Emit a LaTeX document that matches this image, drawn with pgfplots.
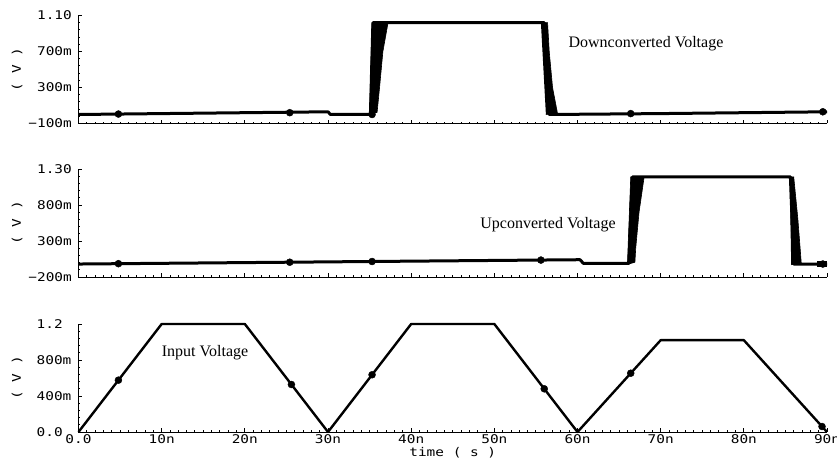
\documentclass[border=0pt]{standalone}
\usepackage{fontspec}
\usepackage{pgfplots}
\pgfplotsset{compat=1.18}
\newfontfamily\monofnt[FakeStretch=1.2]{DejaVu Sans Mono}
\newfontfamily\serfnt{Liberation Serif}
\newcommand\tickfont{\monofnt\fontsize{12}{12}\selectfont}
\newcommand\annfont{\serfnt\fontsize{16}{16}\selectfont}
\pgfplotsset{
  myaxis/.style={
    scale only axis, width=748.5pt, height=108pt, anchor=south west,
    xmin=0, xmax=90, xtick={0,10,...,90}, minor x tick num=9,
    axis x line*=bottom, axis y line*=left,
    tick align=inside, major tick length=3.5pt, minor tick length=1.8pt,
    axis line style={line width=0.9pt},
    every tick/.style={line width=0.9pt, black},
    tick label style={font=\tickfont},
    yticklabel style={anchor=east, inner sep=0pt, xshift=-6.5pt},
    minor y tick num=4,
    ylabel={( V )},
    ylabel style={font=\tickfont, at={(axis description cs:-0.082,0.5)}, anchor=center},
    clip=false,
  },
  sig/.style={line width=3pt, black, line join=round, mark=none},
  band/.style={fill=black, draw=black, line width=0.6pt, mark=none},
  mk/.style={only marks, mark=*, mark size=3.5pt, black},
}
\begin{document}
\begin{tikzpicture}
% ---------- Panel 1: Downconverted ----------
\begin{axis}[myaxis, at={(78.5pt,338.5pt)},
  ymin=-0.1, ymax=1.1, ytick={-0.1,0.3,0.7,1.1},
  yticklabels={−100m,300m,700m,1.10}, xticklabel={\mbox{}}]
\addplot[sig] coordinates {(0,0.0) (10,0.01) (20,0.02) (30,0.03) (30.3,0.0) (35.1,0.0) (35.4,1.02) (56.0,1.02) (56.6,0.0) (70,0.01) (80,0.02) (90,0.03)};
\addplot[band] coordinates {(35.0,0.0) (35.3,1.02) (37.2,1.01) (36.6,0.7) (36.2,0.3) (35.9,0.02)};
\addplot[band] coordinates {(55.6,1.02) (56.4,1.02) (56.6,0.7) (57.0,0.3) (57.6,0.01) (56.2,0.0)};
\addplot[mk] coordinates {(4.8,0.005) (25.4,0.02) (35.3,0.0) (66.4,0.01) (89.5,0.03)};
\node[anchor=west, font=\annfont, inner sep=0pt] at (axis cs:58.9,0.79) {Downconverted Voltage};
\end{axis}
% ---------- Panel 2: Upconverted ----------
\begin{axis}[myaxis, at={(78.5pt,185pt)},
  ymin=-0.2, ymax=1.3, ytick={-0.2,0.3,0.8,1.3},
  yticklabels={−200m,300m,800m,1.30}, xticklabel={\mbox{}}]
\addplot[sig] coordinates {(0,-0.02) (20,0.0) (40,0.02) (60.3,0.04) (60.7,-0.01) (66.2,-0.01) (66.6,1.19) (85.6,1.19) (86.0,-0.02) (90,-0.02)};
\addplot[band] coordinates {(66.0,-0.03) (66.4,1.19) (68.0,1.18) (67.4,0.7) (67.0,0.2) (66.9,0.0)};
\addplot[band] coordinates {(85.5,1.19) (86.0,1.19) (86.5,0.6) (86.9,0.0) (85.7,-0.03)};
\addplot[black, line width=6pt] coordinates {(88.8,-0.02) (90,-0.02)};
\addplot[mk] coordinates {(4.8,-0.015) (25.4,0.005) (35.3,0.015) (55.6,0.035) (89.5,-0.02)};
\node[anchor=west, font=\annfont, inner sep=0pt] at (axis cs:48.3,0.52) {Upconverted Voltage};
\end{axis}
% ---------- Panel 3: Input ----------
\begin{axis}[myaxis, at={(78.5pt,30pt)},
  ymin=0, ymax=1.2, ytick={0,0.4,0.8,1.2},
  yticklabels={0.0,400m,800m,1.2},
  yticklabel style={anchor=west, inner sep=0pt, xshift=-35.5pt},
  xticklabels={0.0,10n,20n,30n,40n,50n,60n,70n,80n,90n},
  xticklabel style={anchor=base, yshift=-12pt},
  xlabel={time ( s )},
  xlabel style={font=\tickfont, at={(axis description cs:0.5,0)}, anchor=base, yshift=-25pt}]
\addplot[black, line width=2.4pt, line join=round, mark=none] coordinates {(0,0) (10,1.2) (20,1.2) (30,0) (40,1.2) (50,1.2) (60,0) (70,1.02) (80,1.02) (90,0)};
\addplot[mk] coordinates {(4.8,0.576) (25.6,0.528) (35.3,0.636) (56.0,0.48) (66.4,0.653) (89.4,0.061)};
\node[anchor=west, font=\annfont, inner sep=0pt] at (axis cs:10.0,0.886) {Input Voltage};
\end{axis}
\pgfresetboundingbox
\useasboundingbox (0,0) rectangle (837pt,462pt);
\end{tikzpicture}
\end{document}
